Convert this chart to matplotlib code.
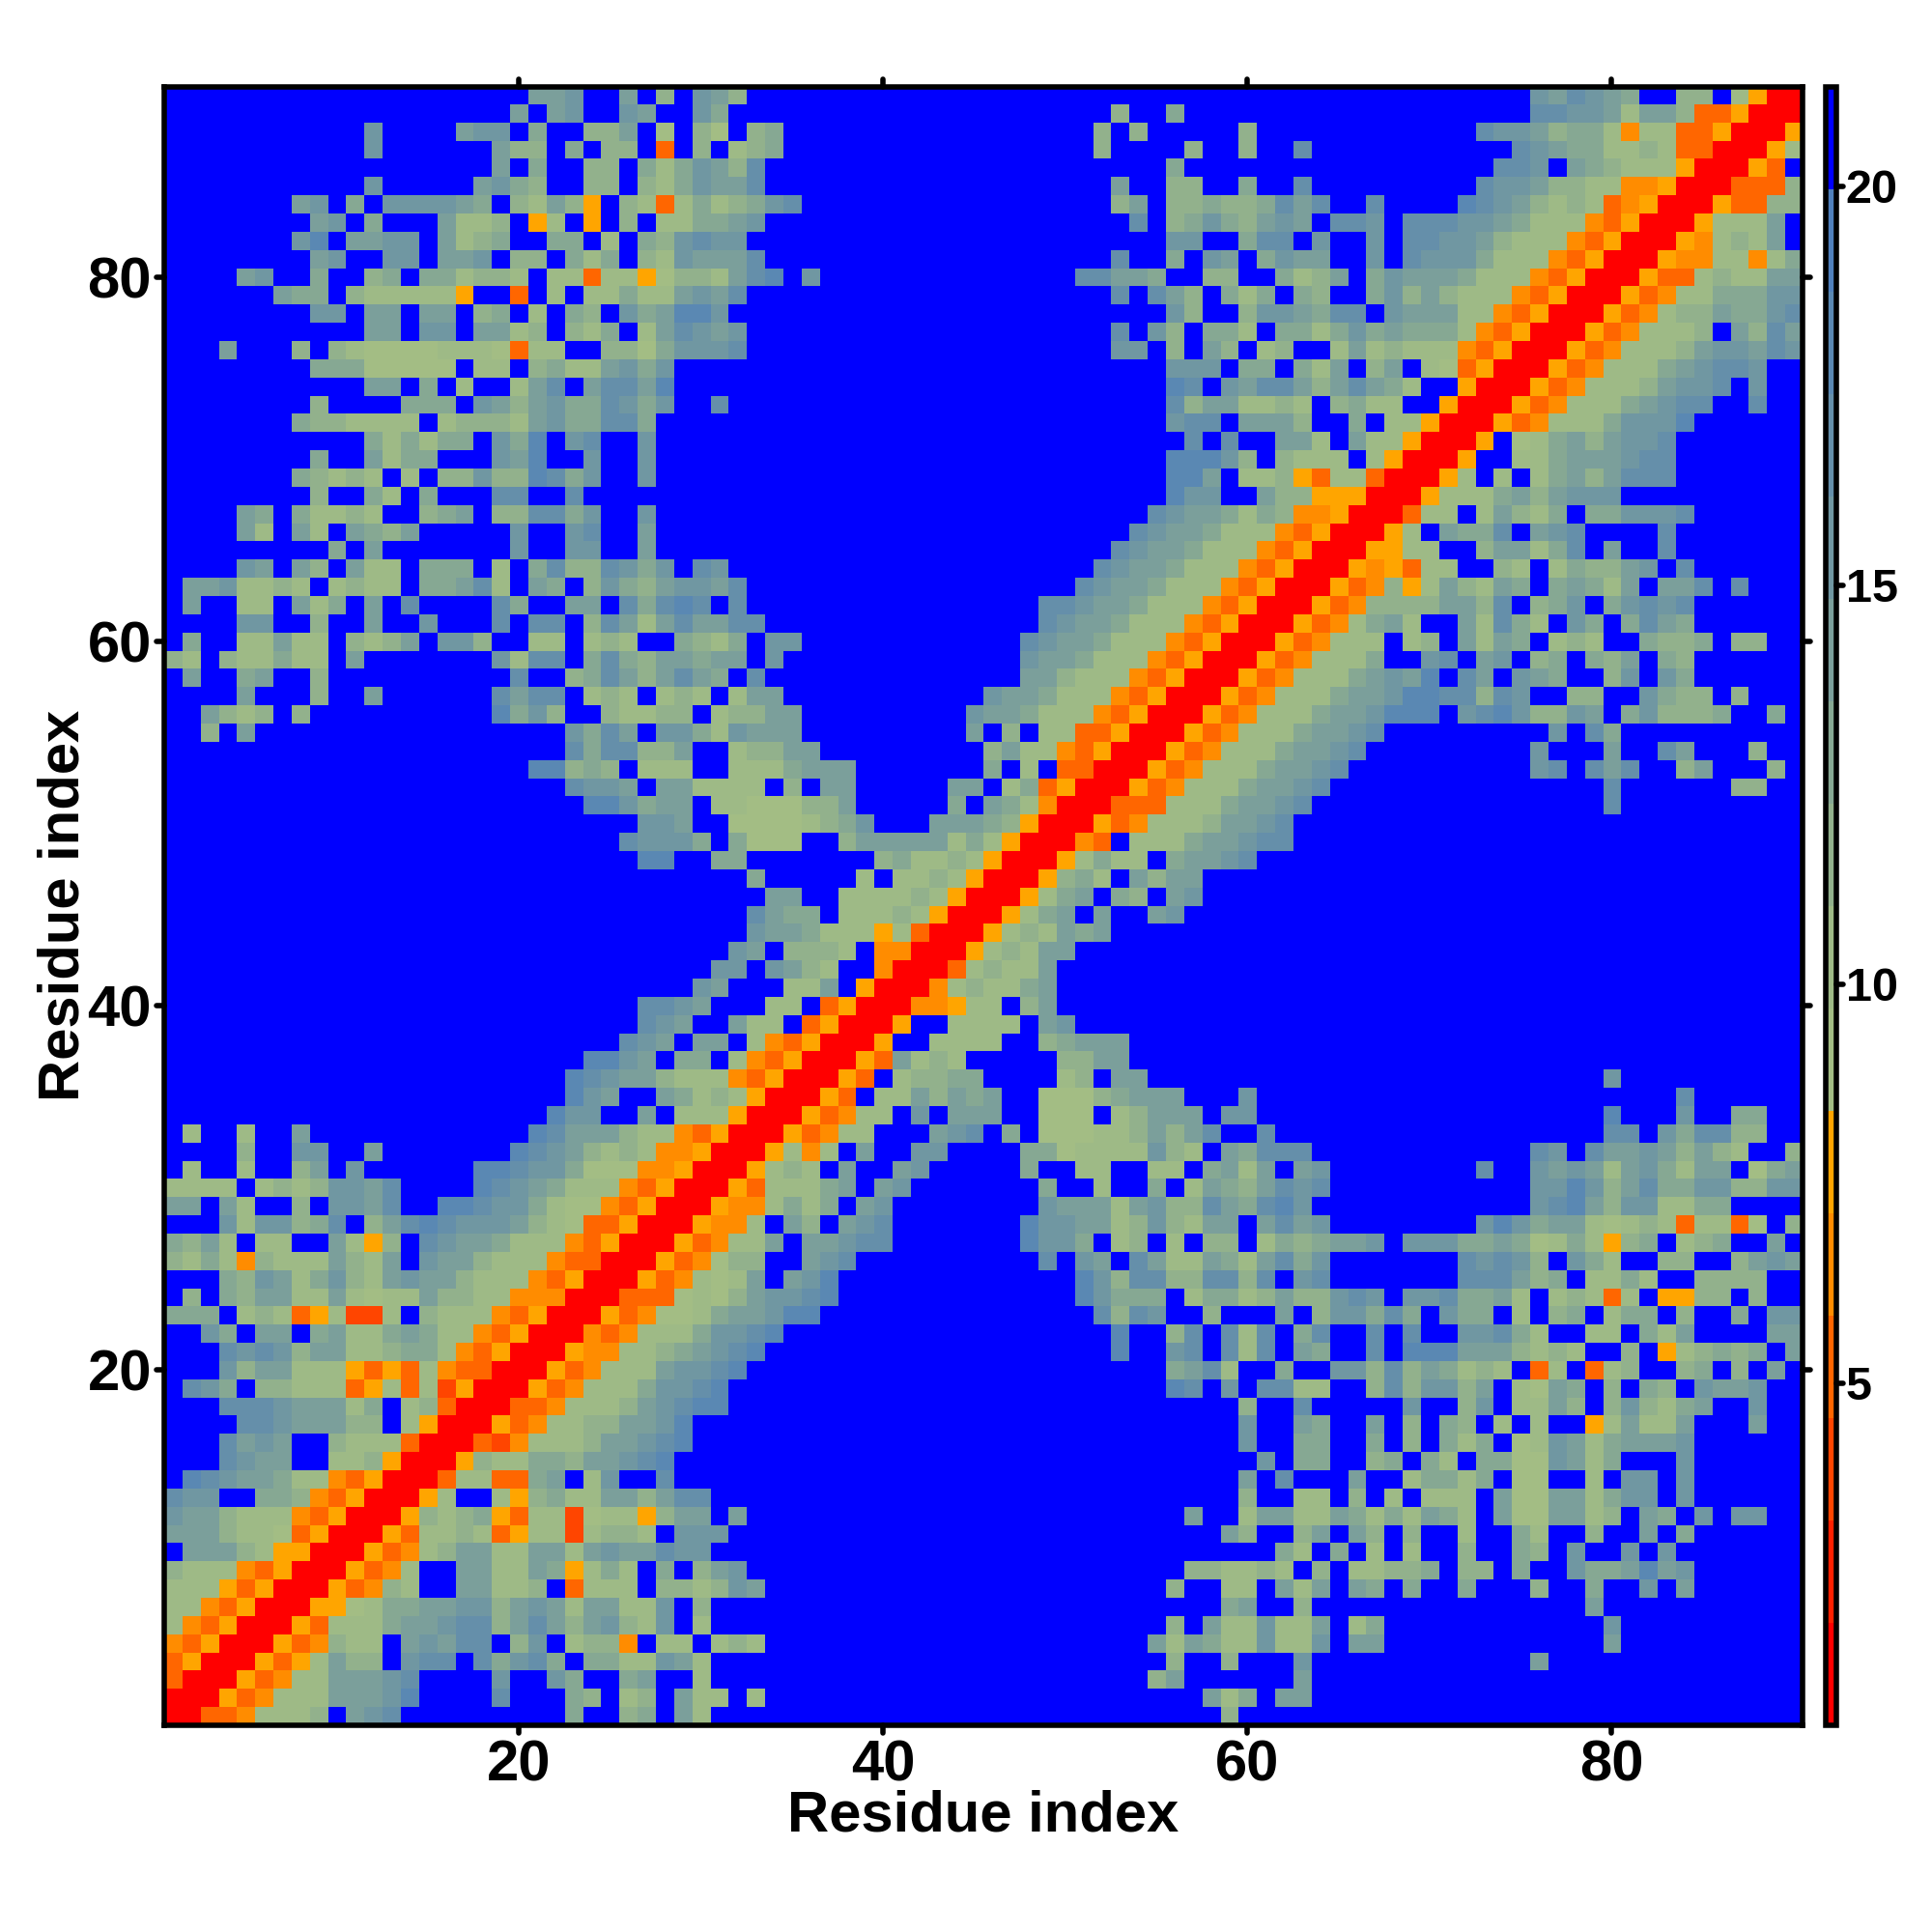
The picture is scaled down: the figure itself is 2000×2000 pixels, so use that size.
"""
residue contact map, upper left triangle is read from the picture, the rest is mirrored
"""
import numpy as np
import matplotlib
matplotlib.use("Agg")
from matplotlib import pyplot as plt
from matplotlib.colors import ListedColormap, Normalize
from matplotlib.markers import MarkerStyle

plt.rcParams['font.family'] = ['Liberation Sans', 'DejaVu Sans']
plt.rcParams['font.weight'] = 'bold'

N_RES = 90
VAL_MIN = 0.71
VAL_MAX = 21.25
TICKS_MAP = [20, 40, 60, 80]
TICKS_BAR = [5, 10, 15, 20]
AXIS_LABEL = 'Residue index'

# one colour per level, red (close) to blue (far)
COLOURS = ['#FF0000', '#FF2000', '#FF4500', '#FF6600', '#FF8C00', '#FFA500',
           '#A3BD84', '#9EBA86', '#92B18C', '#86A893', '#7B9F9B', '#7097A2',
           '#658FAA', '#5A88B3', '#5080BC', '#0000FF']

# level of each cell, first string is residue 90, last is residue 2
# "col:levels" means levels written from that column on, anything left out is blue
ROWS = [
    "21:aab 26:a 28:8 30:ba8 76:bacba9 84:88 87:750",
    "20:a 22:ab 26:ba 30:b9 53:8 56:9 76:ccbba7aa83350",
    "12:b 17:abb 21:9 24:88a 28:6 30:86 33:89 52:8 54:8 60:8 73:cbba89974773350",
    "12:b 19:a88 23:9 25:88 28:3 30:8 32:789 52:8 57:8 60:8 63:c 75:cba997787330",
    "19:a 21:9 24:88 27:979ba8c 56:9 74:ccb 78:a9877750",
    "12:b 18:ab98 24:88 27:879baac 53:a 56:88 60:9 63:c 73:cbba88774450",
    "8:ab 11:9 13:bbbba9 20:87a85 26:87379789bc 53:8a 56:889889cac 67:c 72:dcba87873450",
    "9:ab 12:9 16:a778 21:57 24:5 26:8 28:7799ab 54:c 56:89b98aba 65:ccb 69:cccbba97774350",
    "8:bd 11:aabb 16:a789 22:99 25:7 27:98bcbb 56:bb 60:9cc 64:b 67:b 69:ccbba87774350",
    "9:ab 13:bb 16:aab 20:88 23:979 27:87baaac 53:c 56:9 58:ba 61:9baa 67:b 69:cbbb97774350",
    "5:ab 9:9 12:89 15:997887 22:7737756887acd 36:b 51:ccaa9 58:88 62:978a 67:9baaa97774350",
    "7:a99 11:8777775 20:3 22:7 24:77977abac 53:c 55:ca8 59:979 63:98 67:9b8a87774350",
    "9:bb 12:aa 15:aa 18:89 21:7 23:98 26:b9addb 56:b8 60:8bba9cc 68:baaa774350",
    "12:aa 15:bb 18:aa78 23:879 27:7acbab 53:c 55:b8 58:997 62:9979b9a99974350",
    "4:a 8:8 10:8766667776377 25:8869bbbc 53:bb 56:8 58:a8 61:78 65:7a787774350",
    "9:99966666 18:77 21:8977ab9b 56:bbb 60:99 63:97a 67:8a 70:76350",
    "12:aa 15:9 17:7 20:7ac 24:accad 56:dc 59:bacca8aca97 72:50",
    "9:8 14:999 18:ba8ab99cb9b 31:c 56:c8aa7787 65:8977 71:50",
    "8:9887777 16:78887ab99cc9 56:bcc 60:aaa8 66:9 68:7750",
    "12:979799 19:b9d 23:bc 27:b 57:c 59:c 62:aa7 66:a7750",
    "9:9 12:a799 19:bad 24:b 27:b 56:dddb8 62:8777 67:750",
    "8:98787 14:7 16:88b88dc9b 27:b 56:dda 60:778537730",
    "9:8 12:97 15:9 19:cc 23:c 56:dbb 61:a885550",
    "5:a9 8:97787 15:89a 19:88cc9b 27:b 55:cbaa97984450",
    "5:a7 8:a7 11:a98a 20:b 23:bc 27:a 54:cbaa97774350",
    "10:9 12:a 20:b 23:bb 27:a 53:cbaa97774350",
    "5:ba 8:a8 11:a77 15:999 19:7 21:9c88cb9b 30:cb 52:cbaa97774350",
    "2:aab7787 10:7877 15:99ac7 21:a9 24:8b98abbac 51:cbaa97774350",
    "2:a 5:77 8:a79 12:a 14:c 19:c9 23:aa 26:c9cdc 32:c 49:ccbaa97774350",
    "5:bb 9:8 12:a 15:b 19:c 21:cc 24:8ca7acaacc 49:cbaa97774350",
    "2:9 5:77a77 11:878a 16:bb8 21:77 24:787 29:9879 34:bb 48:cbaa97774350",
    "1:87 4:877977 11:a 19:b7cc 24:9c98aa9aa 34:b 48:baa97774350",
    "2:a 5:9a 9:8 20:c 23:89ca8aca9 33:c 48:aa87774350",
    "5:a 9:8 12:a 19:cacc 24:787 28:787 32:7aa 46:baa97774350",
    "3:a878 8:8 19:d9b8 25:87788 31:788aa 45:baa97774350",
    "3:8 5:a 23:b9ca 28:bb97baaa 45:a 47:8 49:773350",
    "23:c9cc88a 32:788aa 46:8a774350",
    "21:dd898 27:777 32:7779aaa 46:9 48:7 50:330",
    "23:cbba 28:aa7777 35:8 37:aa 44:aa 47:79350",
    "24:ddb9aa 31:7766688a 44:9 46:a9740",
    "27:bba 32:6666789b 43:aaa9850",
    "26:cbbb9 32:9666 38:8aaaaa79750",
    "27:dd 31:99 40:89778750",
    "33:9 39:7 41:778750",
    "34:aa 38:77778750",
    "33:ca99 38:7778750",
    "33:baa97775730",
    "32:ba 35:8887 40:440",
    "31:bb 34:ba87 40:40",
    "30:ba 35:77a 39:50",
    "27:ccba 34:77 37:350",
    "27:cba 32:a77 36:350",
    "26:cba 30:aa 33:74350",
    "24:ddba 29:99 32:74350",
    "23:dcbaa87774350",
    "23:dba 28:a978750",
    "22:dbb 27:a 29:77750",
    "2:7 5:7 8:a 21:dcaaa8774350",
    "5:8 8:bb 12:a 20:dcba87874450",
    "2:7 5:7 8:8a 11:b 18:ddcbb96664450",
    "1:7777 6:7878bbac 18:dcba97774350",
    "1:aa 4:a7 8:8 10:bbac 16:ddcbb97664350",
    "4:b7bb89c 12:8acdcbbba8763350",
    "1:98a7 6:77 10:a758 15:cbaa97774350",
    "1:879748777a87a 15:baa87774330",
    "4:98ba79b87abaa87774350",
    "2:8 4:98aa77a7677a88774440",
    "1:999 5:787357227 15:87774350",
    "3:b9 6:aa 9:9a779a9774350",
    "4:cbcb8aa7789974350",
    "4:b8aa777535374330",
    "2:cb9 6:8877735737250",
    "4:cccbaaa79 14:7830",
    "5:ccbaaa88 14:750",
    "4:caba 10:877730",
    "4:cbaa 10:77850",
    "2:dcbaa9774350",
    "1:cbb 6:9984350",
    "1:baa87774350",
    "1:aaa8776350",
    "2:aaa87550",
    "1:87774350",
    "1:7775350",
    "1:774350",
    "1:74350",
    "1:4350",
    "1:350",
    "1:30",
    "1:0",
]


def get_matrix():
    step = (VAL_MAX - VAL_MIN) / len(COLOURS)
    levels = np.full((N_RES, N_RES), len(COLOURS) - 1)
    np.fill_diagonal(levels, 0)
    for k, row in enumerate(ROWS):
        y = N_RES - k
        for part in row.split():
            start, vals = part.split(':')
            for i, ch in enumerate(vals):
                c = int(start) + i
                levels[y - 1, c - 1] = int(ch, 16)
                levels[c - 1, y - 1] = int(ch, 16)
    return VAL_MIN + (levels + 0.5) * step


def round_ticks(axis):
    for line in axis.get_ticklines():
        line.set_marker(MarkerStyle(line.get_marker(), capstyle='round'))


mat = get_matrix()
cmap = ListedColormap(COLOURS)
norm = Normalize(VAL_MIN, VAL_MAX)

fig = plt.figure(figsize=(10, 10), dpi=200)
ax = fig.add_axes([169.5 / 2000, 1 - 1786 / 2000, (1866 - 169.5) / 2000, (1786 - 89.5) / 2000])
im = ax.imshow(mat, origin='lower', cmap=cmap, norm=norm, interpolation='nearest',
               extent=(0.5, N_RES + 0.5, 0.5, N_RES + 0.5), aspect='auto')
ax.set_xticks(TICKS_MAP)
ax.set_yticks(TICKS_MAP)
ax.tick_params(top=True, right=True, length=3, width=2, labelsize=21.5)
ax.tick_params(axis='x', pad=2.3)
ax.tick_params(axis='y', pad=1.5)
ax.set_xlabel(AXIS_LABEL, fontsize=21.5, fontweight='bold', labelpad=-1)
ax.set_ylabel(AXIS_LABEL, fontsize=21.5, fontweight='bold', labelpad=-1)
for s in ax.spines.values():
    s.set_linewidth(2)
round_ticks(ax.xaxis)
round_ticks(ax.yaxis)

cax = fig.add_axes([1889.5 / 2000, 1 - 1786 / 2000, 11.5 / 2000, (1786 - 89.5) / 2000])
cb = fig.colorbar(im, cax=cax, ticks=TICKS_BAR)
cb.outline.set_linewidth(2)
cb.ax.tick_params(length=2.5, width=2, labelsize=17.5, pad=1)
round_ticks(cb.ax.yaxis)

fig.savefig('out.png', dpi=200)
